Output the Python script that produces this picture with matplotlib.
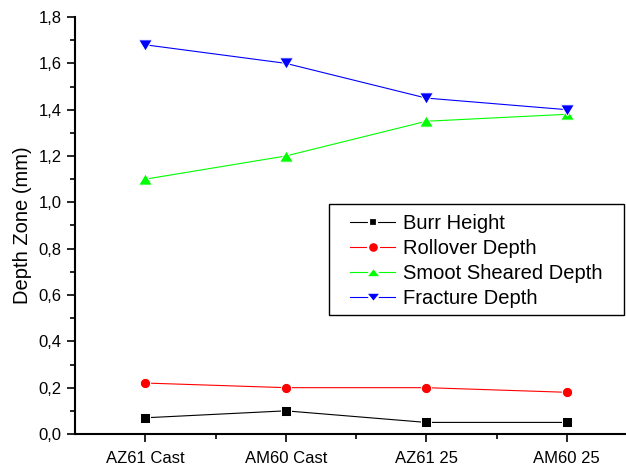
import matplotlib
matplotlib.use("Agg")
import matplotlib.pyplot as plt
from matplotlib.ticker import MultipleLocator, FixedLocator
from matplotlib.lines import Line2D
from matplotlib.patches import Rectangle
from matplotlib.path import Path
from matplotlib.markers import MarkerStyle

plt.rcParams['font.family'] = ['Liberation Sans', 'DejaVu Sans']

categories = ["AZ61 Cast", "AM60 Cast", "AZ61 25", "AM60 25"]
burr_height = [0.07, 0.10, 0.05, 0.05]
rollover_depth = [0.22, 0.20, 0.20, 0.18]
smooth_sheared = [1.10, 1.20, 1.35, 1.38]
fracture_depth = [1.68, 1.60, 1.45, 1.40]
series_names = ['Burr Height', 'Rollover Depth', 'Smoot Sheared Depth', 'Fracture Depth']
y_ticks = [0.0, 0.2, 0.4, 0.6, 0.8, 1.0, 1.2, 1.4, 1.6, 1.8]

W, H = 626, 467
fig = plt.figure(figsize=(W/100, H/100), dpi=100)
ax = fig.add_axes([75/W, 33/H, (637-75)/W, (434-17)/H])


def tri(up, ratio):
    h = ratio
    if up:
        v = [(-1, -h), (1, -h), (0, h), (-1, -h)]
    else:
        v = [(-1, h), (1, h), (0, -h), (-1, h)]
    return MarkerStyle(Path(v, closed=True), joinstyle='round')


def mk(m, ratio=0.83):
    if m == '^':
        return tri(True, ratio)
    if m == 'v':
        return tri(False, ratio)
    return MarkerStyle(m, joinstyle='round')


x = list(range(len(categories)))
series = [burr_height, rollover_depth, smooth_sheared, fracture_depth]
colors = ['black', 'red', '#00ff00', 'blue']
markers = ['s', 'o', '^', 'v']
lw = 0.8
mew = 0.7
vis = [6.25, 6.7, 8.6, 8.6]          # visible marker sizes (pt)
grow = [1.0, 1.0, 1.74, 1.74]         # how much the white edge eats per unit width
for ys, c, m, v, g, name in zip(series, colors, markers, vis, grow, series_names):
    ax.plot(x, ys, color=c, marker=mk(m), lw=lw, ms=v + g * mew, mfc=c, mec='white',
            mew=mew, label=name)

ax.set_xlim(-0.5, 3.5)
ax.set_ylim(0, 1.8)
ax.set_xticks(x)
ax.set_xticklabels(categories, fontsize=12)
ax.xaxis.set_minor_locator(FixedLocator([0.5, 1.5, 2.5]))
ax.set_yticks(y_ticks)
ax.set_yticklabels([f"{v:.1f}".replace('.', ',') for v in y_ticks], fontsize=12)
ax.yaxis.set_minor_locator(MultipleLocator(0.1))
ax.tick_params(which='major', direction='out', length=6, width=1.2)
ax.tick_params(which='minor', direction='out', length=3.5, width=1.2)
ax.tick_params(axis='x', pad=6)

for s in ['top', 'right']:
    ax.spines[s].set_visible(False)
for s in ['left', 'bottom']:
    ax.spines[s].set_linewidth(1.5)

ax.set_ylabel("Depth Zone (mm)", fontsize=14.5, labelpad=5)

# legend with Origin-style gaps around markers
lmew = 1.6
lvis = [4.8, 6.25, 8.4, 8.4]
handles = [Line2D([], [], color=c, marker=mk(m, 0.62), lw=lw, ms=v + g * lmew, mfc=c,
                  mec='white', mew=lmew)
           for c, m, v, g in zip(colors, markers, lvis, grow)]
leg = fig.legend(handles, series_names, loc='upper left',
                 bbox_to_anchor=(350/W, 1 - 214/H), bbox_transform=fig.transFigure,
                 fontsize=14.5, frameon=False, borderpad=0, labelspacing=0.3,
                 handlelength=2.25, handletextpad=0.4, borderaxespad=0)
fig.patches.append(Rectangle((329/W, 1 - 315/H), (624-329)/W, (315-204)/H,
                             transform=fig.transFigure, fill=False, edgecolor='black',
                             linewidth=1.0, zorder=5))

fig.savefig("out.png", dpi=100)
